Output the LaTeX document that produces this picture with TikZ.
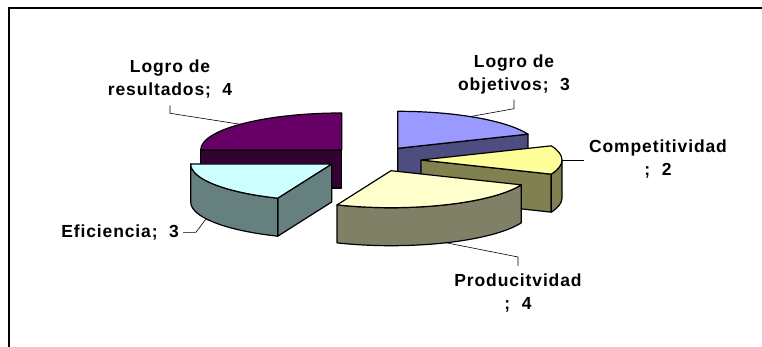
\documentclass[tikz,border=0pt]{standalone}
\usepackage{fontspec}
\setmainfont{Liberation Sans}
\newfontfamily\chartfont{Liberation Sans}[LetterSpace=5]
\usetikzlibrary{calc,positioning}
\definecolor{resultpurple}{HTML}{660066}
\definecolor{resultdark}{HTML}{330033}
\definecolor{objblue}{HTML}{9999FF}
\definecolor{objdark}{HTML}{4D4D80}
\definecolor{compyellow}{HTML}{FFFF99}
\definecolor{compdark}{HTML}{808050}
\definecolor{prodyellow}{HTML}{FFFFCC}
\definecolor{proddark}{HTML}{808066}
\definecolor{eficyan}{HTML}{CCFFFF}
\definecolor{efidark}{HTML}{668080}
\newcommand{\pierx}{141}
\newcommand{\piery}{37}
\newcommand{\pieh}{38}

\begin{document}
\begin{tikzpicture}[
        x=1pt, y=1pt,
        face/.style={draw, line width=1.2pt, line join=round},
        pie radii/.style={x radius=\pierx, y radius=\piery},
        leader/.style={draw, line width=0.6pt},
        lbl/.style={font=\chartfont\bfseries\fontsize{17.5}{23}\selectfont, align=center, inner sep=0pt}
    ]
        \useasboundingbox (0,0) rectangle (762,347);

        % Frame
        \draw[line width=1.2pt] (9,0) |- (762,339);

        % Slice corners
        \coordinate (lrA) at (341.7,197);
        \coordinate (loA) at (397.7,198.7);
        \coordinate (coA) at (421,187);
        \coordinate (efA) at (331.7,183);
        \coordinate (prA) at (391,176.3);

        % Logro de resultados
        \draw[face, fill=resultdark] (lrA) -- ++(180:\pierx pt and \piery pt) -- ++(0,-\pieh) -- ($(lrA)+(0,-\pieh)$) -- cycle;
        \draw[face, fill=resultpurple] (lrA) -- ++(90:\pierx pt and \piery pt) arc[start angle=90, end angle=180, pie radii] -- cycle;

        % Logro de objetivos
        \draw[face, fill=objdark] (loA) -- ++(22.5:\pierx pt and \piery pt) -- ++(0,-\pieh) -- ($(loA)+(0,-\pieh)$) -- cycle;
        \draw[face, fill=objblue] (loA) -- ++(22.5:\pierx pt and \piery pt) arc[start angle=22.5, end angle=90, pie radii] -- cycle;

        % Competitividad
        \draw[face, fill=compdark] (coA) -- ++(-22.5:\pierx pt and \piery pt) -- ++(0,-\pieh) -- ($(coA)+(0,-\pieh)$) -- cycle;
        \draw[face, fill=compdark] ($(coA)+(-22.5:\pierx pt and \piery pt)$) arc[start angle=-22.5, end angle=0, pie radii] -- ++(0,-\pieh) arc[start angle=0, end angle=-22.5, pie radii] -- cycle;
        \draw[face, fill=compyellow] (coA) -- ++(-22.5:\pierx pt and \piery pt) arc[start angle=-22.5, end angle=22.5, pie radii] -- cycle;

        % Eficiencia
        \draw[face, fill=efidark] (efA) -- ++(247.5:\pierx pt and \piery pt) -- ++(0,-\pieh) -- ($(efA)+(0,-\pieh)$) -- cycle;
        \draw[face, fill=efidark] ($(efA)+(180:\pierx pt and \piery pt)$) arc[start angle=180, end angle=247.5, pie radii] -- ++(0,-\pieh) arc[start angle=247.5, end angle=180, pie radii] -- cycle;
        \draw[face, fill=eficyan] (efA) -- ++(180:\pierx pt and \piery pt) arc[start angle=180, end angle=247.5, pie radii] -- cycle;

        % Producitvidad
        \draw[face, fill=proddark] ($(prA)+(247.5:\pierx pt and \piery pt)$) arc[start angle=247.5, end angle=337.5, pie radii] -- ++(0,-\pieh) arc[start angle=337.5, end angle=247.5, pie radii] -- cycle;
        \draw[face, fill=prodyellow] (prA) -- ++(247.5:\pierx pt and \piery pt) arc[start angle=247.5, end angle=337.5, pie radii] -- cycle;

        % Labels
        \node[lbl, anchor=north] (lrlabel) at (170,287.5) {Logro de\\resultados;\ \ 4};
        \node[lbl, anchor=north] (lolabel) at (514,292) {Logro de\\objetivos;\ \ 3};
        \node[lbl, anchor=north] (colabel) at (658,207) {Competitividad\\;\ \ 2};
        \node[lbl, anchor=north] (prlabel) at (518,73) {Producitvidad\\;\ \ 4};
        \node[lbl, anchor=base east] (eflabel) at (179,109.7) {Eficiencia;\ \ 3};

        % Leaders
        \coordinate (lrpt) at ($(lrA)+(136:\pierx pt and \piery pt)$);
        \coordinate (lopt) at ($(loA)+(59:\pierx pt and \piery pt)$);
        \coordinate (copt) at ($(coA)+(0:\pierx pt and \piery pt)$);
        \coordinate (prpt) at ($(prA)+(293:\pierx pt and \piery pt)+(0,-\pieh)$);
        \coordinate (efpt) at ($(efA)+(207:\pierx pt and \piery pt)+(0,-\pieh)$);
        \draw[leader] ([yshift=-7pt]lrlabel.south) -- ++(0,-8) -- (lrpt);
        \draw[leader] ([yshift=-5pt]lolabel.south) -- ++(0,-9) -- (lopt);
        \draw[leader] (copt) -- ([xshift=-5pt]colabel.west |- copt);
        \draw[leader] (prpt) -- ([yshift=17pt]prlabel.north) -- ([yshift=8pt]prlabel.north);
        \draw[leader] (efpt) -- ([xshift=17pt]eflabel.east) -- ([xshift=4pt]eflabel.east);
    \end{tikzpicture}
\end{document}
